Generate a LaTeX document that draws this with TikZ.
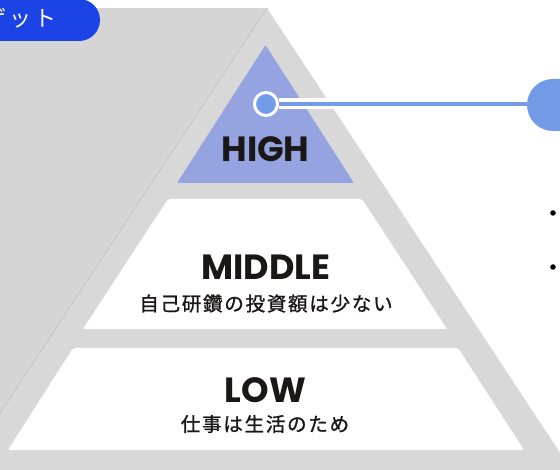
\documentclass[tikz,border=0pt]{standalone}
\usepackage{fontspec}
\newfontfamily\popfont{Poppins}
\newfontfamily\cjk[FakeBold=1.2]{Noto Sans CJK JP}
\newfontfamily\cjklight{Noto Sans CJK JP}
\definecolor{pyrgray}{RGB}{215,216,215}
\definecolor{leftgray}{RGB}{213,213,213}
\definecolor{edgegray}{RGB}{190,190,190}
\definecolor{highblue}{RGB}{149,164,224}
\definecolor{linkblue}{RGB}{115,155,232}
\definecolor{pillblue}{RGB}{27,67,229}
\definecolor{ink}{RGB}{28,23,23}
\tikzset{
  tier/.style={rounded corners=2pt},
  title/.style={font=\popfont\bfseries\fontsize{35}{35}\selectfont, text=ink, inner sep=0pt},
  subtitle/.style={font=\cjk\fontsize{19.5}{20}\selectfont\addfontfeatures{LetterSpace=9}, text=ink, inner sep=0pt},
  bulletdot/.style={circle, fill=black, minimum size=5.5pt, inner sep=0pt}
}
\begin{document}
\begin{tikzpicture}[x=1pt,y=-1pt]
\useasboundingbox (0,0) rectangle (560,470);
\clip (0,0) rectangle (560,470);
% left gray area
\fill[leftgray] (0,8) rectangle (268,480);
% outer pyramid
\fill[pyrgray, rounded corners=2pt] (267,8) -- (578,480) -- (-44,480) -- cycle;
\draw[edgegray, line width=0.5pt] (267,8) -- (-44,480);
% tiers
\fill[highblue, tier] (265.5,45) -- (354,183) -- (177,183) -- cycle;
\fill[white, tier] (168,199) -- (362,199) -- (447,329) -- (83,329) -- cycle;
\fill[white, tier] (73,348) -- (458,348) -- (524,450) -- (8,450) -- cycle;
% titles
\node[title] (high) at (265.5,149.5) {HIGH};
\node[title] (mid) at (266,267) {MIDDLE};
\node[subtitle] (midsub) at (266,303.5) {自己研鑽の投資額は少ない};
\node[title] (low) at (265.5,390) {LOW};
\node[subtitle] (lowsub) at (265,424) {仕事は生活のため};
% pill top-left
\node[fill=pillblue, rounded corners=21pt, minimum width=160pt, minimum height=42pt, inner sep=0pt] (pill) at (20,20) {};
\node[anchor=east, text=white, font=\cjklight\fontsize{22}{22}\selectfont\addfontfeatures{LetterSpace=15}, inner sep=0pt] (pilltext) at (57,18) {ゲット};
% target and connector
\node[fill=linkblue, rounded corners=26pt, minimum width=100pt, minimum height=52pt, inner sep=0pt] (tgt) at (577,105) {};
\node[circle, fill=linkblue, draw=white, line width=3pt, minimum size=23pt, inner sep=0pt] (dot) at (266,104) {};
\draw[white, line width=11pt] (dot.east) -- (dot.east -| tgt.west);
\draw[linkblue, line width=4pt] (dot.east) -- (dot.east -| tgt.west);
% bullets
\node[bulletdot] (b1) at (553,213) {};
\node[bulletdot] (b2) at (553,267) {};
\end{tikzpicture}
\end{document}
